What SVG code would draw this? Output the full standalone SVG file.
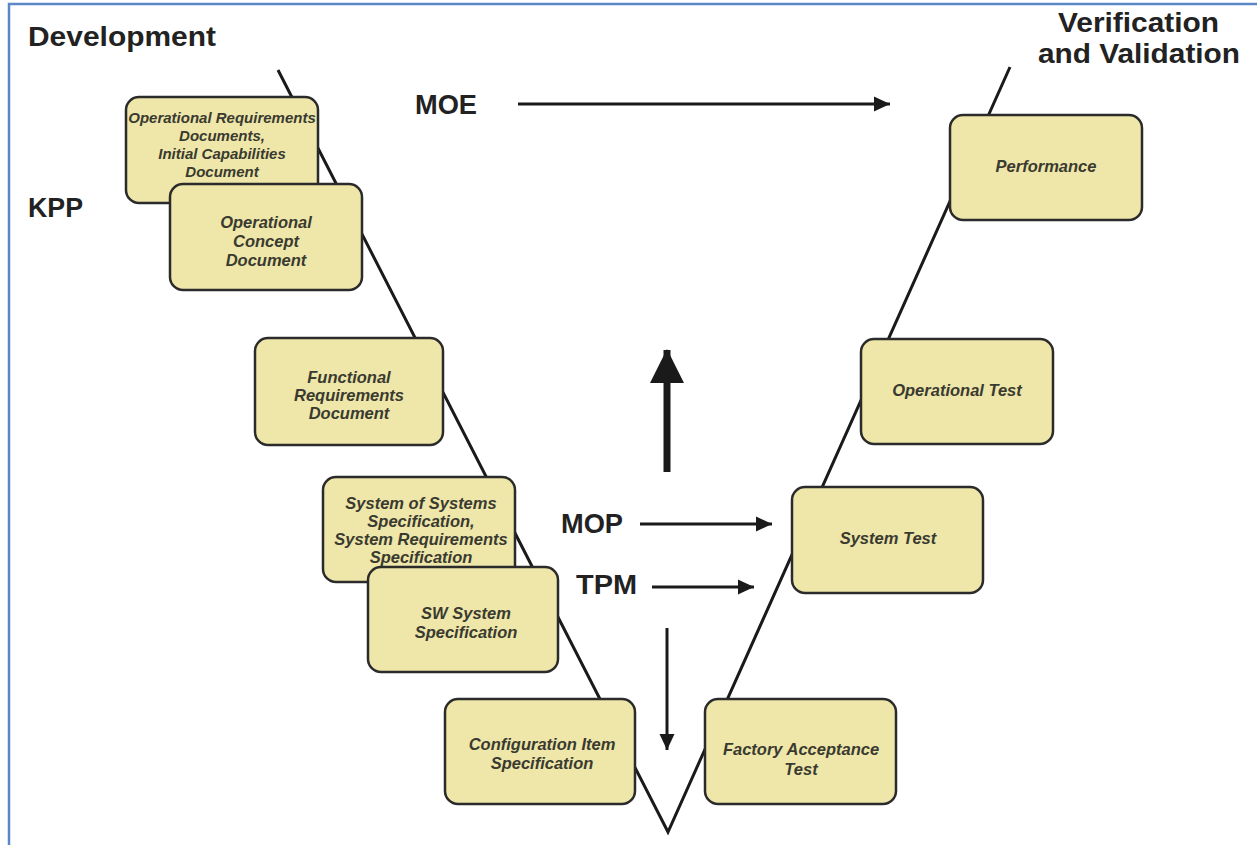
<svg xmlns="http://www.w3.org/2000/svg" width="1257" height="845" viewBox="0 0 1257 845">
<style>
.node rect{fill:#EEE7A9;stroke:#2b2b2b;stroke-width:2.5}
.node text{font-family:"Liberation Sans",Arial,sans-serif;font-weight:bold;font-style:italic;font-size:16.5px;fill:#3a3a30;text-anchor:middle}
.head{font-family:"Liberation Sans",Arial,sans-serif;font-weight:bold;font-size:27px;fill:#222}
.v{fill:none;stroke:#1a1a1a;stroke-width:3;stroke-linejoin:miter}
.arr{stroke:#1a1a1a;stroke-width:3;fill:none}
</style>
<defs>
<marker id="ah" markerUnits="userSpaceOnUse" markerWidth="16" markerHeight="16" refX="16" refY="7.5" orient="auto" viewBox="0 0 16 15">
<path d="M0,0 L16,7.5 L0,15 z" fill="#1a1a1a"/>
</marker>
<marker id="bigah" markerUnits="userSpaceOnUse" markerWidth="34" markerHeight="34" refX="33" refY="17" orient="auto" viewBox="0 0 34 34">
<path d="M0,0 L34,17 L0,34 z" fill="#1a1a1a"/>
</marker>
</defs>
<rect width="1257" height="845" fill="#fff"/>
<path d="M9,845 V4 H1257" fill="none" stroke="#5B87C6" stroke-width="2.5"/>

<g id="headings">
<text class="head" x="28" y="46" textLength="188" lengthAdjust="spacingAndGlyphs">Development</text>
<text class="head" x="28" y="217" textLength="55" lengthAdjust="spacingAndGlyphs">KPP</text>
<text class="head" x="415" y="114" textLength="62" lengthAdjust="spacingAndGlyphs">MOE</text>
<text class="head" x="561" y="533" textLength="62" lengthAdjust="spacingAndGlyphs">MOP</text>
<text class="head" x="576" y="594" textLength="61" lengthAdjust="spacingAndGlyphs">TPM</text>
<text class="head" x="1058" y="32" textLength="161" lengthAdjust="spacingAndGlyphs">Verification</text>
<text class="head" x="1038" y="63" textLength="202" lengthAdjust="spacingAndGlyphs">and Validation</text>
</g>

<g id="connectors">
<polyline class="v" points="278,70 668,832 1010,67"/>
<line class="arr" x1="518" y1="104" x2="890" y2="104" marker-end="url(#ah)"/>
<line class="arr" x1="640" y1="524" x2="772" y2="524" marker-end="url(#ah)"/>
<line class="arr" x1="652" y1="587" x2="754" y2="587" marker-end="url(#ah)"/>
<line class="arr" x1="667" y1="628" x2="667" y2="750" marker-end="url(#ah)"/>
<line x1="667" y1="472" x2="667" y2="350" stroke="#1a1a1a" stroke-width="7" marker-end="url(#bigah)"/>
</g>

<g id="n-opreq" class="node">
<rect x="126" y="97" width="192" height="106" rx="13"/>
<text x="222" y="123" style="font-size:15px">Operational Requirements</text>
<text x="222" y="141" style="font-size:15px">Documents,</text>
<text x="222" y="159" style="font-size:15px">Initial Capabilities</text>
<text x="222" y="177" style="font-size:15px">Document</text>
</g>
<g id="n-opcon" class="node">
<rect x="170" y="184" width="192" height="106" rx="13"/>
<text x="266" y="228">Operational</text>
<text x="266" y="247">Concept</text>
<text x="266" y="266">Document</text>
</g>
<g id="n-func" class="node">
<rect x="255" y="338" width="188" height="107" rx="13"/>
<text x="349" y="383">Functional</text>
<text x="349" y="401">Requirements</text>
<text x="349" y="419">Document</text>
</g>
<g id="n-sos" class="node">
<rect x="323" y="477" width="192" height="105" rx="13"/>
<text x="421" y="509">System of Systems</text>
<text x="421" y="527">Specification,</text>
<text x="421" y="545">System Requirements</text>
<text x="421" y="563">Specification</text>
</g>
<g id="n-sw" class="node">
<rect x="368" y="567" width="190" height="105" rx="13"/>
<text x="466" y="619">SW System</text>
<text x="466" y="638">Specification</text>
</g>
<g id="n-ci" class="node">
<rect x="445" y="699" width="190" height="105" rx="13"/>
<text x="542" y="750">Configuration Item</text>
<text x="542" y="769">Specification</text>
</g>
<g id="n-fat" class="node">
<rect x="705" y="699" width="191" height="105" rx="13"/>
<text x="801" y="755">Factory Acceptance</text>
<text x="801" y="775">Test</text>
</g>
<g id="n-sys" class="node">
<rect x="792" y="487" width="191" height="106" rx="13"/>
<text x="888" y="544">System Test</text>
</g>
<g id="n-optest" class="node">
<rect x="861" y="339" width="192" height="105" rx="13"/>
<text x="957" y="396">Operational Test</text>
</g>
<g id="n-perf" class="node">
<rect x="950" y="115" width="192" height="105" rx="13"/>
<text x="1046" y="172">Performance</text>
</g>
</svg>
